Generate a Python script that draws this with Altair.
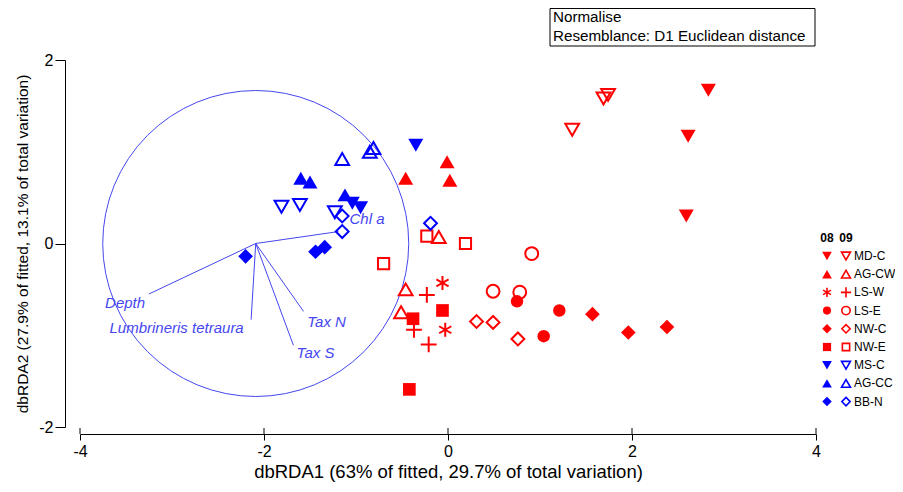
import altair as alt
import pandas as pd

# ---------------- data ----------------
sites = ["MD-C", "AG-CW", "LS-W", "LS-E", "NW-C", "NW-E", "MS-C", "AG-CC", "BB-N"]
years = ["08", "09"]

point_site = (["MD-C"] * 6 + ["AG-CW"] * 6 + ["LS-W"] * 5 + ["LS-E"] * 6 + ["NW-C"] * 6
              + ["NW-E"] * 6 + ["MS-C"] * 6 + ["AG-CC"] * 6 + ["BB-N"] * 6)
point_year = (["08"] * 3 + ["09"] * 3        # MD-C
              + ["08"] * 3 + ["09"] * 3      # AG-CW
              + ["08"] * 2 + ["09"] * 3      # LS-W
              + ["08"] * 3 + ["09"] * 3      # LS-E
              + ["08"] * 3 + ["09"] * 3      # NW-C
              + ["08"] * 3 + ["09"] * 3      # NW-E
              + ["08"] * 3 + ["09"] * 3      # MS-C
              + ["08"] * 3 + ["09"] * 3      # AG-CC
              + ["08"] * 3 + ["09"] * 3)     # BB-N
point_x = [2.83, 2.61, 2.59, 1.35, 1.69, 1.74,
           -0.01, -0.46, 0.02, -0.10, -0.46, -0.51,
           -0.06, -0.03, -0.23, -0.37, -0.21,
           0.75, 1.21, 1.04, 0.91, 0.49, 0.78,
           1.57, 1.96, 2.38, 0.31, 0.49, 0.76,
           -0.06, -0.38, -0.42, -0.23, 0.19, -0.70,
           -1.04, -0.95, -0.35, -1.81, -1.61, -1.23,
           -1.60, -1.50, -1.12, -1.15, -0.85, -0.81,
           -2.20, -1.44, -1.34, -1.15, -1.15, -0.19]
point_y = [1.67, 1.17, 0.30, 1.24, 1.58, 1.62,
           0.89, 0.71, 0.69, 0.07, -0.50, -0.75,
           -0.43, -0.94, -0.56, -0.94, -1.10,
           -0.63, -0.73, -1.01, -0.11, -0.52, -0.53,
           -0.77, -0.97, -0.91, -0.85, -0.86, -1.04,
           -0.73, -0.82, -1.59, 0.08, 0.00, -0.22,
           0.44, 0.39, 1.07, 0.40, 0.42, 0.34,
           0.71, 0.67, 0.53, 0.92, 1.00, 1.04,
           -0.14, -0.09, -0.04, 0.30, 0.13, 0.22]

vector_names = ["Chl a", "Depth", "Lumbrineris tetraura", "Tax N", "Tax S"]
vector_x = [-1.19, -3.25, -2.14, -1.57, -1.68]
vector_y = [0.13, -0.55, -0.83, -0.74, -1.11]
vector_label_x = [-0.88, -3.51, -2.95, -1.32, -1.44]
vector_label_y = [0.27, -0.65, -0.92, -0.86, -1.19]
vector_origin = [-2.09, 0.0]

x_ticks = [-4, -2, 0, 2, 4]
y_ticks = [-2, 0, 2]
info_lines = ["Normalise", "Resemblance: D1 Euclidean distance"]
x_title = "dbRDA1 (63% of fitted, 29.7% of total variation)"
y_title = "dbRDA2 (27.9% of fitted, 13.1% of total variation)"

# ---------------- styles ----------------
RED = "#ff0000"
BLUE = "#0000ff"
VEC = "#4646f0"
FONT = "Liberation Sans"
ASTERISK = "M0,-1L0,1M-0.87,-0.5L0.87,0.5M-0.87,0.5L0.87,-0.5"
PLUS = "M-1,0L1,0M0,-1L0,1"

site_color = {s: (BLUE if s in ("MS-C", "AG-CC", "BB-N") else RED) for s in sites}
shape_by_site = {"MD-C": "triangle-down", "AG-CW": "triangle-up", "LS-W": ASTERISK,
                 "LS-E": "circle", "NW-C": "diamond", "NW-E": "square",
                 "MS-C": "triangle-down", "AG-CC": "triangle-up", "BB-N": "diamond"}
size_filled = {"triangle-down": 225, "triangle-up": 225, ASTERISK: 196, "circle": 155,
               "diamond": 215, "square": 160, PLUS: 250}
size_open = {"triangle-down": 190, "triangle-up": 190, "circle": 165,
             "diamond": 165, "square": 125, PLUS: 250, ASTERISK: 196}


def shape_of(site, year):
    if site == "LS-W" and year == "09":
        return PLUS
    return shape_by_site[site]


def build(site_list, year_list):
    rows = []
    for s, yv in zip(site_list, year_list):
        shp = shape_of(s, yv)
        stroke_only = shp in (ASTERISK, PLUS)
        filled = (yv == "08") and not stroke_only
        size = size_filled[shp] if filled else size_open[shp]
        rows.append({"site": s, "year": yv, "shape": shp, "color": site_color[s],
                     "size": size, "filled": filled})
    return pd.DataFrame(rows)


pts = build(point_site, point_year)
pts["x"] = point_x
pts["y"] = point_y

W, H = 736, 367
XS = alt.Scale(domain=[-4, 4], nice=False, zero=False)
YS = alt.Scale(domain=[-2, 2], nice=False, zero=False)
XAX = alt.Axis(values=x_ticks, grid=False, offset=7, tickSize=6, labelPadding=3,
               titlePadding=3, labelFontSize=16, titleFontSize=18.5, labelFont=FONT,
               titleFont=FONT, titleFontWeight="normal", domainColor="black",
               tickColor="black", labelColor="black", titleColor="black",
               labelExpr="'' + datum.value", labelFlush=False)
YAX = alt.Axis(values=y_ticks, grid=False, offset=15, tickSize=10, labelPadding=2,
               titlePadding=8, labelFontSize=16, titleFontSize=15.5, labelFont=FONT,
               titleFont=FONT, titleFontWeight="normal", domainColor="black",
               tickColor="black", labelColor="black", titleColor="black",
               labelExpr="'' + datum.value", labelFlush=False)


def X(f):
    return alt.X(f, type="quantitative", scale=XS, axis=XAX, title=x_title)


def Y(f):
    return alt.Y(f, type="quantitative", scale=YS, axis=YAX, title=y_title)


enc_style = dict(shape=alt.Shape("shape:N", scale=None),
                 color=alt.Color("color:N", scale=None),
                 size=alt.Size("size:Q", scale=None))

fill_pts = alt.Chart(pts[pts["filled"]]).mark_point(filled=True, opacity=1).encode(
    x=X("x"), y=Y("y"), **enc_style)
stroke_pts = alt.Chart(pts[~pts["filled"]]).mark_point(filled=False, opacity=1, strokeWidth=2).encode(
    x=X("x"), y=Y("y"), **enc_style)

circle = alt.Chart(pd.DataFrame({"x": [vector_origin[0]], "y": [vector_origin[1]]})).mark_point(
    shape="circle", filled=False, opacity=1, size=306 ** 2, color=VEC, strokeWidth=1).encode(
    x=X("x"), y=Y("y"))

vec = pd.DataFrame({"name": vector_names, "x": [vector_origin[0]] * 5, "y": [vector_origin[1]] * 5,
                    "x_end": vector_x, "y_end": vector_y,
                    "lx": vector_label_x, "ly": vector_label_y})
rules = alt.Chart(vec).mark_rule(color=VEC, strokeWidth=1).encode(
    x=X("x"), y=Y("y"), x2=alt.X2("x_end", title=x_title), y2=alt.Y2("y_end", title=y_title))
vec_labels = alt.Chart(vec).mark_text(font=FONT, fontStyle="italic", fontSize=15, color=VEC,
                                      align="center", baseline="middle").encode(
    x=X("lx"), y=Y("ly"), text="name:N")

ticks_up = alt.Chart(pd.DataFrame({"x": x_ticks})).mark_rule(color="black", strokeWidth=1).encode(
    x=X("x"), y=alt.value(H + 1), y2=alt.value(H + 7))

one = alt.Data(values=[{}])
box = alt.Chart(one).mark_rect(fill="white", stroke="black", strokeWidth=1).encode(
    x=alt.value(470), x2=alt.value(735), y=alt.value(-51.5), y2=alt.value(-14))
box_text = alt.layer(*[
    alt.Chart(one).mark_text(text=t, font=FONT, fontSize=15.2, align="left", baseline="middle",
                             color="black").encode(x=alt.value(473), y=alt.value(yy))
    for t, yy in zip(info_lines, [-43, -24])
])

main = alt.layer(circle, rules, vec_labels, ticks_up, fill_pts, stroke_pts, box, box_text)

# ---------------- legend ----------------
leg_rows = []
for i, s in enumerate(sites):
    for j, yv in enumerate(years):
        leg_rows.append({"site": s, "year": yv, "row": i, "col": j})
leg = build([r["site"] for r in leg_rows], [r["year"] for r in leg_rows])
leg["row"] = [r["row"] for r in leg_rows]
leg["col"] = [r["col"] for r in leg_rows]
leg["size"] = leg["size"] * 0.42

LX = alt.X("col:Q", scale=alt.Scale(domain=[0, 1], range=[747, 766], nice=False, zero=False), axis=None)
LY = alt.Y("row:Q", scale=alt.Scale(domain=[0, 8], range=[196, 341.6], nice=False, zero=False), axis=None)

leg_fill = alt.Chart(leg[leg["filled"]]).mark_point(filled=True, opacity=1).encode(x=LX, y=LY, **enc_style)
leg_stroke = alt.Chart(leg[~leg["filled"]]).mark_point(filled=False, opacity=1, strokeWidth=1.6).encode(
    x=LX, y=LY, **enc_style)
leg_text = alt.Chart(pd.DataFrame({"site": sites, "row": list(range(len(sites))), "col": [1.42] * len(sites)})
                     ).mark_text(font=FONT, fontSize=12, align="left", baseline="middle", color="black").encode(
    x=LX, y=LY, text="site:N")
leg_head = alt.Chart(pd.DataFrame({"lab": years, "row": [-1, -1], "col": [0, 1]})).mark_text(
    font=FONT, fontSize=12, fontWeight="bold", align="center", baseline="middle", color="black").encode(
    x=LX, y=LY, text="lab:N")

legend = alt.layer(leg_head, leg_fill, leg_stroke, leg_text)

chart = alt.layer(main, legend).resolve_scale(x="independent", y="independent").properties(
    width=W, height=H,
    autosize=alt.AutoSizeParams(type="none"),
    padding={"left": 72, "top": 52, "right": 79, "bottom": 57},
).configure_view(stroke=None)

chart.save("out.html", embed_options={"renderer": "svg", "actions": False})
